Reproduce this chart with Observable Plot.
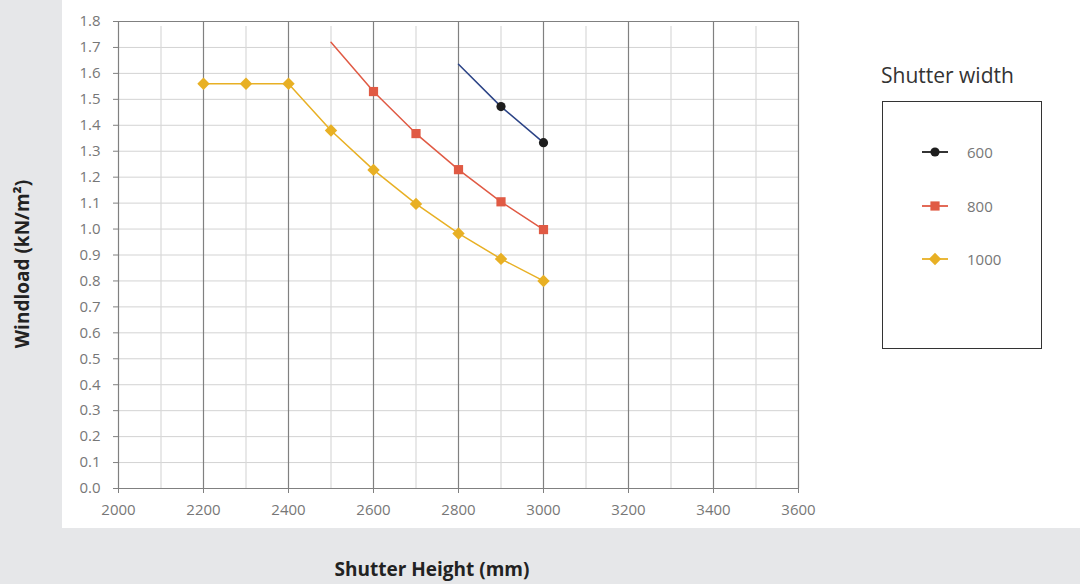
<!DOCTYPE html>
<html>
<head>
<meta charset="utf-8">
<script src="https://cdn.jsdelivr.net/npm/d3@7"></script>
<script src="https://cdn.jsdelivr.net/npm/@observablehq/plot@0.6"></script>
<style>
  html, body { margin: 0; padding: 0; background: #e6e7e9; }
  #wrap { position: relative; width: 1080px; height: 584px; overflow: hidden; font-family: "Open Sans", "Noto Sans", sans-serif; }
  #chart { position: absolute; left: 62px; top: 0; }
  .ytitle { position: absolute; left: 22px; top: 264px; transform: translate(-50%, -50%) rotate(-90deg); white-space: nowrap; font-weight: 700; font-size: 19px; color: #222; }
  .xtitle { position: absolute; left: 432px; top: 569px; transform: translate(-50%, -50%); white-space: nowrap; font-weight: 700; font-size: 19px; color: #222; }
  .ltitle { position: absolute; left: 881px; top: 61px; font-size: 21px; color: #333; white-space: nowrap; }
  .lbox { position: absolute; left: 882px; top: 101px; width: 158px; height: 246px; border: 1.5px solid #333; background: #fff; }
  .litem { position: absolute; left: 922px; height: 20px; display: flex; align-items: center; }
  .litem span { margin-left: 19px; font-size: 15px; color: #777; }
</style>
</head>
<body>
<div id="wrap">
  <div id="chart"></div>
  <div class="ytitle">Windload (kN/m²)</div>
  <div class="xtitle">Shutter Height (mm)</div>
  <div class="ltitle">Shutter width</div>
  <div class="lbox"></div>
  <div id="legend"></div>
</div>
<script>
// ---- data ----
const widths = ["600", "800", "1000"];
const h600 = [2800, 2900, 3000];
const v600 = [1.635, 1.472, 1.333];
const h800 = [2500, 2600, 2700, 2800, 2900, 3000];
const v800 = [1.72, 1.53, 1.368, 1.229, 1.105, 0.998];
const h1000 = [2200, 2300, 2400, 2500, 2600, 2700, 2800, 2900, 3000];
const v1000 = [1.56, 1.56, 1.56, 1.38, 1.228, 1.097, 0.983, 0.885, 0.80];
// first height that carries a marker (earlier points are line-only)
const firstMarker = [2900, 2600, 2200];
const xTicks = [2000, 2200, 2400, 2600, 2800, 3000, 3200, 3400, 3600];
const xMinor = [2100, 2300, 2500, 2700, 2900, 3100, 3300, 3500];
const yTicks = d3.range(0, 19).map(i => i / 10);

// ---- styling ----
const lineColors = ["#2b4386", "#e05a44", "#e8b024"];
const markColors = ["#1e1e1e", "#e05a44", "#e8b024"];
const symCircle = { draw(ctx, size) { const r = Math.sqrt(size / Math.PI); ctx.moveTo(r, 0); ctx.arc(0, 0, r, 0, 2 * Math.PI); } };
const symSquare = { draw(ctx, size) { const r = Math.sqrt(size / Math.PI); ctx.rect(-r, -r, 2 * r, 2 * r); } };
const symDiamond = { draw(ctx, size) { const r = Math.sqrt(size / Math.PI) * 1.35; ctx.moveTo(0, -r); ctx.lineTo(r, 0); ctx.lineTo(0, r); ctx.lineTo(-r, 0); ctx.closePath(); } };
const symbols = [symCircle, symSquare, symDiamond];

const seriesH = [h600, h800, h1000];
const seriesV = [v600, v800, v1000];
const rows = [];
widths.forEach((w, i) => seriesH[i].forEach((h, j) => rows.push({ width: w, idx: i, h, v: seriesV[i][j], marker: h >= firstMarker[i] })));

const marks = [
  Plot.ruleY(yTicks.filter(d => d > 0 && d < 1.8), { stroke: "#d3d3d3", strokeWidth: 1 }),
  Plot.ruleX(xMinor, { y1: 0, y2: 1.8, insetBottom: -5, stroke: "#d9d9d9", strokeWidth: 1.2 }),
  Plot.ruleX(xTicks, { y1: 0, y2: 1.8, stroke: "#808080", strokeWidth: 1.2 }),
  Plot.ruleY([0, 1.8], { stroke: "#808080", strokeWidth: 1.2 }),
  Plot.axisX({ ticks: xTicks, tickSize: 5, tickPadding: 11, tickFormat: d => String(d), stroke: "#808080", color: "#777", fontSize: 15, label: null }),
  Plot.axisY({ ticks: yTicks, tickSize: 5, tickPadding: 13, tickFormat: d => d.toFixed(1), stroke: "#808080", color: "#777", fontSize: 15, label: null })
];
widths.forEach((w, i) => {
  const data = rows.filter(r => r.idx === i);
  marks.push(Plot.line(data, { x: "h", y: "v", stroke: lineColors[i], strokeWidth: 1.5, curve: "linear" }));
});
widths.forEach((w, i) => {
  const data = rows.filter(r => r.idx === i && r.marker);
  marks.push(Plot.dot(data, { x: "h", y: "v", symbol: () => symbols[i], r: 4.6, fill: markColors[i], stroke: "none" }));
});

const chart = Plot.plot({
  width: 1018,
  height: 528,
  marginLeft: 56,
  marginRight: 282,
  marginTop: 21,
  marginBottom: 40,
  style: { background: "#fff", fontFamily: "'Open Sans', 'Noto Sans', sans-serif" },
  x: { domain: [2000, 3600] },
  y: { domain: [0, 1.8] },
  marks
});
document.getElementById("chart").appendChild(chart);

// ---- legend ----
const legendY = [152, 205.5, 259];
const legend = document.getElementById("legend");
widths.forEach((w, i) => {
  const item = document.createElement("div");
  item.className = "litem";
  item.style.top = (legendY[i] - 10) + "px";
  const ns = "http://www.w3.org/2000/svg";
  const svg = document.createElementNS(ns, "svg");
  svg.setAttribute("width", 26); svg.setAttribute("height", 20);
  const ln = document.createElementNS(ns, "line");
  ln.setAttribute("x1", 0); ln.setAttribute("x2", 26); ln.setAttribute("y1", 10); ln.setAttribute("y2", 10);
  ln.setAttribute("stroke", markColors[i]); ln.setAttribute("stroke-width", 1.8);
  svg.appendChild(ln);
  const p = document.createElementNS(ns, "path");
  const path = d3.path();
  symbols[i].draw(path, Math.PI * 4.6 * 4.6);
  p.setAttribute("d", path.toString());
  p.setAttribute("transform", "translate(13,10)");
  p.setAttribute("fill", markColors[i]);
  svg.appendChild(p);
  item.appendChild(svg);
  const s = document.createElement("span");
  s.textContent = w;
  item.appendChild(s);
  legend.appendChild(item);
});
</script>
</body>
</html>
